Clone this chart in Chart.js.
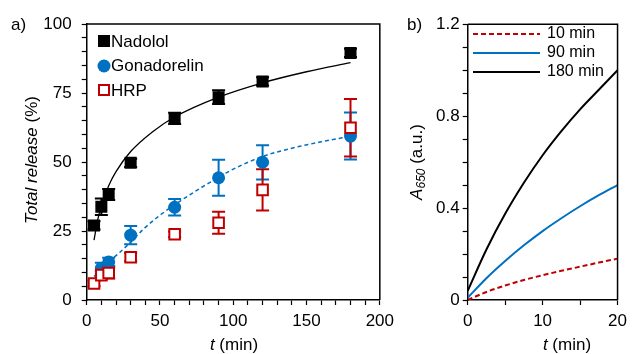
<!DOCTYPE html>
<html>
<head>
<meta charset="utf-8">
<script src="https://cdn.jsdelivr.net/npm/chart.js@4.4.1/dist/chart.umd.min.js"></script>
<style>
  body { margin: 0; background: #fff; }
  #wrap { position: relative; width: 633px; height: 354px; }
  canvas { position: absolute; top: 0; }
</style>
</head>
<body>
<div id="wrap">
  <canvas id="chartA" width="400" height="354" style="left:0;width:400px;height:354px"></canvas>
  <canvas id="chartB" width="233" height="354" style="left:400px;width:233px;height:354px"></canvas>
</div>
<script>
const FONT = "'Liberation Sans', Arial, sans-serif";
const RED = '#c00000';
const BLUE = '#0070c0';

// panel a: release data
const releaseTimes = [5, 10, 15, 30, 60, 90, 120, 180];
const nadolol = [27, 33.8, 38.2, 49.7, 65.8, 73.5, 79.2, 89.5];
const nadololErr = [1.5, 3, 2, 1.5, 2, 2.5, 1.5, 1.5];
const gonadorelin = [null, 11.5, 13.8, 23.5, 33.6, 44.3, 49.9, 59.4];
const gonadorelinErr = [0, 2, 1.5, 3.3, 3, 6.5, 6.2, 8.5];
const hrp = [6, 9, 9.8, 15.5, 23.8, 28, 39.9, 62.4];
const hrpErr = [1, 1.5, 2, 1.5, 1, 4, 7.5, 10.4];

// fitted curves
const nadololFitT = [5, 7.5, 10, 15, 20, 30, 45, 60, 90, 120, 150, 180];
const nadololFit = [21.7, 29, 34.1, 41.4, 46.5, 53.8, 61, 66.3, 73.5, 78.7, 82.7, 86];
const gonadorelinFitT = [5, 10, 15, 22.5, 30, 40, 50, 60, 90, 100, 120, 140, 160, 180];
const gonadorelinFit = [8.5, 11, 13.8, 17.2, 21, 26.3, 30.7, 34.5, 44.5, 47.4, 52, 55, 57.3, 59.3];

// panel b: absorbance curves
const tB = [0, 2.5, 5, 7.5, 10, 12.5, 15, 17.5, 20];
const abs10 = [0, 0.035, 0.063, 0.087, 0.108, 0.127, 0.145, 0.163, 0.18];
const abs90 = [0.01, 0.095, 0.17, 0.238, 0.3, 0.356, 0.408, 0.456, 0.5];
const abs180 = [0.04, 0.22, 0.375, 0.51, 0.63, 0.735, 0.83, 0.915, 1.0];

const toXY = (xs, ys) => xs.map((x, i) => ({ x: x, y: ys[i] })).filter(p => p.y !== null);

// draws runs of text [{text, italic, size, dy}] centred at (x, y), optionally rotated
function drawRuns(ctx, runs, x, y, rot) {
    ctx.save();
    ctx.translate(x, y);
    if (rot) ctx.rotate(rot);
    ctx.fillStyle = '#000';
    ctx.textBaseline = 'middle';
    ctx.textAlign = 'left';
    let total = 0;
    runs.forEach(r => {
        ctx.font = (r.italic ? 'italic ' : '') + (r.size || 17) + 'px ' + FONT;
        r.w = ctx.measureText(r.text).width;
        total += r.w;
    });
    let cx = -total / 2;
    runs.forEach(r => {
        ctx.font = (r.italic ? 'italic ' : '') + (r.size || 17) + 'px ' + FONT;
        ctx.fillText(r.text, cx, r.dy || 0);
        cx += r.w;
    });
    ctx.restore();
}

function drawBox(chart) {
    const { ctx, chartArea: a } = chart;
    ctx.save();
    ctx.strokeStyle = '#000';
    ctx.lineWidth = 1.5;
    ctx.beginPath();
    ctx.moveTo(a.left, a.top);
    ctx.lineTo(a.right, a.top);
    ctx.lineTo(a.right, a.bottom);
    ctx.stroke();
    ctx.restore();
}

const errorBars = {
    id: 'errorBars',
    beforeDatasetsDraw(chart) {
        const { ctx, scales: { x, y } } = chart;
        const sets = [[nadolol, nadololErr, '#000'], [gonadorelin, gonadorelinErr, BLUE], [hrp, hrpErr, RED]];
        ctx.save();
        ctx.lineWidth = 2;
        sets.forEach(([vals, errs, col]) => {
            ctx.strokeStyle = col;
            vals.forEach((v, i) => {
                if (v === null || !errs[i]) return;
                const px = x.getPixelForValue(releaseTimes[i]);
                const top = y.getPixelForValue(v + errs[i]);
                const bot = y.getPixelForValue(v - errs[i]);
                ctx.beginPath();
                ctx.moveTo(px, top); ctx.lineTo(px, bot);
                ctx.moveTo(px - 6.5, top); ctx.lineTo(px + 6.5, top);
                ctx.moveTo(px - 6.5, bot); ctx.lineTo(px + 6.5, bot);
                ctx.stroke();
            });
        });
        ctx.restore();
    }
};

const decorA = {
    id: 'decorA',
    afterDraw(chart) {
        const { ctx } = chart;
        drawBox(chart);
        // legend
        ctx.save();
        ctx.fillStyle = '#000';
        ctx.fillRect(98, 35, 12, 12);
        ctx.fillStyle = BLUE;
        ctx.beginPath(); ctx.arc(104, 66, 6.5, 0, Math.PI * 2); ctx.fill();
        ctx.strokeStyle = RED; ctx.lineWidth = 2;
        ctx.strokeRect(99, 85, 10, 10);
        ctx.fillStyle = '#000';
        ctx.font = '17px ' + FONT;
        ctx.textBaseline = 'middle';
        ctx.fillText('Nadolol', 111, 42);
        ctx.fillText('Gonadorelin', 111, 66);
        ctx.fillText('HRP', 111, 91);
        ctx.fillText('a)', 11, 25);
        ctx.restore();
        drawRuns(ctx, [{ text: 'Total release', italic: true }, { text: ' (%)' }], 32, 160, -Math.PI / 2);
        drawRuns(ctx, [{ text: 't', italic: true }, { text: ' (min)' }], 234, 345);
    }
};

const decorB = {
    id: 'decorB',
    afterDraw(chart) {
        const { ctx } = chart;
        drawBox(chart);
        const items = [['10 min', RED, [5, 3]], ['90 min', BLUE, []], ['180 min', '#000', []]];
        ctx.save();
        items.forEach(([label, col, dash], i) => {
            const yy = 34 + i * 19;
            ctx.strokeStyle = col;
            ctx.lineWidth = 2;
            ctx.setLineDash(dash);
            ctx.beginPath(); ctx.moveTo(73, yy); ctx.lineTo(140, yy); ctx.stroke();
            ctx.setLineDash([]);
            ctx.fillStyle = '#000';
            ctx.font = '16px ' + FONT;
            ctx.textBaseline = 'middle';
            ctx.fillText(label, 147, yy);
        });
        ctx.font = '17px ' + FONT;
        ctx.fillText('b)', 7, 25);
        ctx.restore();
        drawRuns(ctx, [{ text: 'A', italic: true }, { text: '650', italic: true, size: 12, dy: 5 }, { text: ' (a.u.)' }], 17, 162, -Math.PI / 2);
        drawRuns(ctx, [{ text: 't', italic: true }, { text: ' (min)' }], 167, 345);
    }
};

function axis(min, max, step, fmt, fit, pad) {
    return {
        type: 'linear', min: min, max: max,
        afterFit: fit,
        border: { display: true, color: '#000', width: 1.5 },
        grid: { drawOnChartArea: false, drawTicks: true, tickLength: 5, color: '#000', tickColor: '#000', tickWidth: 1.2 },
        ticks: {
            stepSize: step, autoSkip: false, maxRotation: 0, color: '#000', padding: pad,
            font: { family: FONT, size: 17 },
            callback: fmt
        }
    };
}

new Chart(document.getElementById('chartA'), {
    type: 'scatter',
    data: {
        datasets: [
            { data: toXY(releaseTimes, hrp), pointStyle: 'rect', pointRadius: 7.5, backgroundColor: '#fff', borderColor: RED, borderWidth: 2, order: 0 },
            { data: toXY(releaseTimes, gonadorelin), pointStyle: 'circle', pointRadius: 6.5, backgroundColor: BLUE, borderColor: BLUE, borderWidth: 0, order: 1 },
            { data: toXY(releaseTimes, nadolol), pointStyle: 'rect', pointRadius: 8.5, backgroundColor: '#000', borderColor: '#000', borderWidth: 0, order: 2 },
            { type: 'line', data: toXY(gonadorelinFitT, gonadorelinFit), borderColor: BLUE, borderWidth: 1.5, borderDash: [4, 3], pointRadius: 0, cubicInterpolationMode: 'monotone', order: 3 },
            { type: 'line', data: toXY(nadololFitT, nadololFit), borderColor: '#000', borderWidth: 1.3, pointRadius: 0, cubicInterpolationMode: 'monotone', order: 4 }
        ]
    },
    options: {
        responsive: false, animation: false,
        layout: { padding: { top: 24, right: 17.3, left: 0, bottom: 0 } },
        plugins: { legend: { display: false }, tooltip: { enabled: false } },
        scales: {
            x: axis(0, 200, 10, v => v % 50 === 0 ? v : '', s => { s.height = 54; }, 6),
            y: axis(0, 100, 5, v => v % 25 === 0 ? v : '', s => { s.width = 86.7; }, 10)
        }
    },
    plugins: [errorBars, decorA]
});

new Chart(document.getElementById('chartB'), {
    type: 'line',
    data: {
        datasets: [
            { data: toXY(tB, abs10), borderColor: RED, borderWidth: 2, borderDash: [5, 3], pointRadius: 0, cubicInterpolationMode: 'monotone' },
            { data: toXY(tB, abs90), borderColor: BLUE, borderWidth: 2, pointRadius: 0, cubicInterpolationMode: 'monotone' },
            { data: toXY(tB, abs180), borderColor: '#000', borderWidth: 2, pointRadius: 0, cubicInterpolationMode: 'monotone' }
        ]
    },
    options: {
        responsive: false, animation: false,
        layout: { padding: { top: 24.3, right: 11.3, left: 0, bottom: 0 } },
        plugins: { legend: { display: false }, tooltip: { enabled: false } },
        scales: {
            x: axis(0, 20, 5, v => v % 10 === 0 ? v : '', s => { s.height = 54; }, 6),
            y: axis(0, 1.2, 0.1, v => Math.round(v * 10) % 4 === 0 ? String(Math.round(v * 10) / 10) : '', s => { s.width = 67.7; }, 3)
        }
    },
    plugins: [decorB]
});
</script>
</body>
</html>
